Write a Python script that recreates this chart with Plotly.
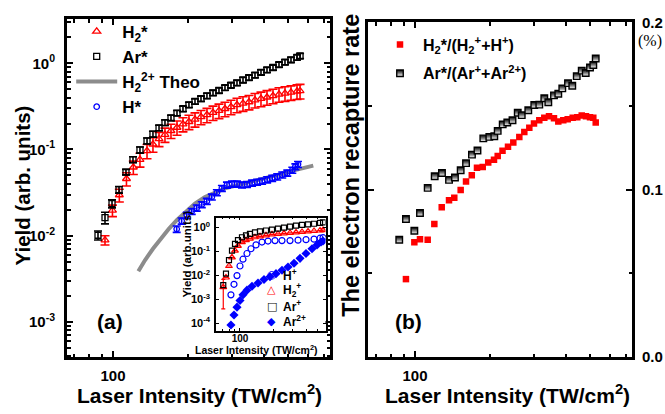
import plotly.graph_objects as go

# ---------------- panel (a): excited neutral yields ----------------
ar_star_I = [87.1, 92.9, 99.1, 105.7, 112.7, 120.2, 128.2, 136.8, 144.5, 152.8,
             161.4, 170.6, 180.3, 190.5, 201.3, 212.8, 224.9, 237.6, 251.2, 265.4,
             280.5, 296.4, 313.3, 331.1, 349.9, 369.8, 390.8, 413.0, 436.5, 461.3,
             487.5, 515.2, 544.5, 560.0]
ar_star_Y = [0.0101, 0.0162, 0.0235, 0.0341, 0.0547, 0.0764, 0.0987, 0.126, 0.151, 0.178,
             0.205, 0.233, 0.265, 0.297, 0.330, 0.361, 0.389, 0.420, 0.454, 0.484,
             0.523, 0.557, 0.594, 0.641, 0.684, 0.730, 0.787, 0.840, 0.895, 0.967,
             1.031, 1.099, 1.172, 1.218]
ar_star_err = [0.0012, 0.0025, 0.0025, 0.003, 0.004, 0.006, 0.008, 0.010, 0.012, 0.013,
               0.015, 0.017, 0.019, 0.021, 0.023, 0.025, 0.027, 0.029, 0.031, 0.033,
               0.035, 0.037, 0.040, 0.043, 0.046, 0.049, 0.052, 0.056, 0.060, 0.064,
               0.068, 0.073, 0.078, 0.081]

h2_star_I = [92.9, 99.5, 106.0, 113.2, 120.6, 128.2, 136.8, 144.5, 152.8, 161.4,
             170.6, 180.3, 190.5, 201.3, 212.8, 224.9, 237.6, 251.2, 265.4, 280.5,
             296.4, 313.3, 331.1, 349.9, 369.8, 390.8, 413.0, 436.5, 461.3, 487.5,
             515.2, 544.5, 560.0]
h2_star_Y = [0.00887, 0.0196, 0.0296, 0.0457, 0.0622, 0.0764, 0.0962, 0.115, 0.133, 0.149,
             0.165, 0.180, 0.197, 0.210, 0.224, 0.239, 0.252, 0.268, 0.282, 0.297,
             0.313, 0.330, 0.343, 0.356, 0.375, 0.389, 0.404, 0.420, 0.437, 0.448,
             0.460, 0.472, 0.478]
h2_star_err = [0.0011, 0.003, 0.005, 0.008, 0.011, 0.014, 0.018, 0.022, 0.025, 0.028,
               0.031, 0.034, 0.037, 0.040, 0.042, 0.045, 0.048, 0.051, 0.054, 0.057,
               0.060, 0.063, 0.066, 0.068, 0.072, 0.075, 0.078, 0.081, 0.084, 0.086,
               0.088, 0.091, 0.092]

h_star_I = [179.8, 188.2, 197.3, 206.5, 216.3, 226.5, 237.3, 248.5, 260.3, 272.6,
            285.6, 299.1, 313.3, 328.1, 343.7, 360.0, 377.1, 394.9, 413.7, 433.3,
            453.8, 475.4, 497.9, 521.5, 536.4, 549.6]
h_star_Y = [0.01191, 0.01479, 0.01726, 0.01913, 0.02094, 0.02291, 0.02506, 0.02812, 0.03155, 0.03540,
            0.03873, 0.03973, 0.03973, 0.03890, 0.03925, 0.04077, 0.04182, 0.04288, 0.04457, 0.04634,
            0.04817, 0.05070, 0.05333, 0.05764, 0.06309, 0.06720]
h_star_err = [0.0010, 0.0012, 0.0014, 0.0015, 0.0017, 0.0018, 0.0020, 0.0022, 0.0025, 0.0028,
              0.0031, 0.0032, 0.0032, 0.0031, 0.0031, 0.0033, 0.0033, 0.0034, 0.0036, 0.0037,
              0.0039, 0.0041, 0.0043, 0.0046, 0.0050, 0.0054]

theo_I = [126.3, 134.2, 144.5, 155.6, 167.6, 180.3, 194.1, 212.8, 233.3, 255.9,
          280.5, 307.5, 337.2, 369.8, 405.4, 444.6, 487.5, 534.5, 586.1, 632.6]
theo_Y = [0.003854, 0.005176, 0.007033, 0.009328, 0.01206, 0.01520, 0.01866, 0.02348, 0.02811, 0.03194,
          0.03540, 0.03775, 0.04026, 0.04293, 0.04576, 0.04941, 0.05333, 0.05764, 0.06143, 0.06501]

# ---------------- inset: ion yields ----------------
ion_I = [70.7, 74.8, 79.6, 84.7, 90.2, 95.9, 104.2, 113.3, 123.0, 136.5,
         151.4, 171.5, 194.2, 219.9, 249.1, 282.2, 319.6, 361.9, 409.9, 464.2,
         525.8, 559.5]
ar_ion_Y = [0.0039, 0.0117, 0.0426, 0.107, 0.204, 0.293, 0.387, 0.465, 0.534, 0.613,
            0.673, 0.738, 0.809, 0.887, 0.973, 1.07, 1.17, 1.28, 1.34, 1.41,
            1.54, 1.62]
h2_ion_Y = [0.0032, 0.0081, 0.0244, 0.056, 0.107, 0.169, 0.244, 0.293, 0.337, 0.387,
            0.424, 0.465, 0.51, 0.534, 0.56, 0.586, 0.613, 0.642, 0.673, 0.704,
            0.738, 0.773]
h2_ion_err_hi = [0.0036] + [None] * 21
h2_ion_err_lo = [0.0028] + [None] * 21

h_ion_I = [82.9, 88.3, 94.0, 100.0, 106.4, 115.6, 125.6, 139.4, 157.8, 178.8,
           206.7, 238.9, 282.2, 333.1, 393.2, 464.2, 525.8, 559.5]
h_ion_Y = [0.00153, 0.0042, 0.0097, 0.0244, 0.047, 0.081, 0.128, 0.185, 0.244, 0.268,
           0.28, 0.28, 0.28, 0.293, 0.307, 0.322, 0.353, 0.37]

ar2_ion_I = [82.9, 88.3, 94.0, 100.0, 106.4, 115.6, 128.3, 145.3, 164.5, 186.3,
             211.0, 238.9, 270.6, 306.6, 347.2, 393.2, 445.3, 494.0, 536.8, 559.5]
ar2_ion_Y = [8.5e-5, 2.2e-4, 4.7e-4, 8.9e-4, 0.00153, 0.0024, 0.0035, 0.0048, 0.0067, 0.0088,
             0.0117, 0.0162, 0.0222, 0.032, 0.051, 0.081, 0.128, 0.185, 0.244, 0.268]

# ---------------- panel (b): recapture rates ----------------
h2_rate_I = [92.0, 99.4, 104.7, 112.4, 119.5, 127.9, 136.8, 143.6, 152.3, 160.0,
             168.7, 177.0, 186.6, 196.3, 207.0, 214.2, 223.9, 235.5, 247.3, 261.4,
             273.7, 286.6, 299.2, 314.2, 329.0, 343.6, 359.7, 374.3, 391.9, 408.1,
             427.3, 445.9, 464.4, 483.1, 501.2, 516.7, 528.3]
h2_rate = [0.0466, 0.0686, 0.0705, 0.0701, 0.0795, 0.0896, 0.0938, 0.0953, 0.0999, 0.1049,
           0.1086, 0.1132, 0.1136, 0.1163, 0.1179, 0.1202, 0.1233, 0.1257, 0.1282, 0.1316,
           0.1345, 0.1370, 0.1396, 0.1415, 0.1431, 0.1440, 0.1427, 0.1408, 0.1415, 0.1421,
           0.1431, 0.1434, 0.1444, 0.1440, 0.1434, 0.1431, 0.1402]

ar_rate_I = [86.5, 92.0, 99.4, 104.7, 112.4, 119.9, 128.2, 136.8, 144.5, 152.3,
             160.0, 169.0, 177.8, 187.6, 198.3, 207.6, 214.2, 224.3, 234.0, 245.5,
             257.6, 267.3, 283.9, 300.0, 314.2, 329.0, 341.4, 359.7, 374.3, 388.3,
             409.3, 425.7, 443.6, 464.4, 481.8, 501.2, 516.7, 528.3]
ar_rate = [0.0701, 0.0825, 0.0755, 0.0861, 0.1011, 0.1081, 0.1100, 0.1059, 0.1073, 0.1117,
           0.1159, 0.1210, 0.1235, 0.1307, 0.1316, 0.1320, 0.1352, 0.1391, 0.1402, 0.1415,
           0.1460, 0.1446, 0.1475, 0.1507, 0.1509, 0.1547, 0.1523, 0.1564, 0.1574, 0.1606,
           0.1637, 0.1622, 0.1679, 0.1712, 0.1698, 0.1731, 0.1746, 0.1784]

# ---------------- ticks ----------------
x_major = [100]
x_major_text = ["100"]
x_minor = [70, 80, 90, 200, 300, 400, 500, 600, 700]
ya_major = [1, 0.1, 0.01, 0.001]
ya_major_text = ["10<sup>0</sup>", "10<sup>-1</sup>", "10<sup>-2</sup>", "10<sup>-3</sup>"]
ya_minor = [4e-4, 5e-4, 6e-4, 7e-4, 8e-4, 9e-4,
            2e-3, 3e-3, 4e-3, 5e-3, 6e-3, 7e-3, 8e-3, 9e-3,
            0.02, 0.03, 0.04, 0.05, 0.06, 0.07, 0.08, 0.09,
            0.2, 0.3, 0.4, 0.5, 0.6, 0.7, 0.8, 0.9, 2, 3]
yi_major = [1, 0.1, 0.01, 0.001, 0.0001]
yi_major_text = ["10<sup>0</sup>", "10<sup>-1</sup>", "10<sup>-2</sup>", "10<sup>-3</sup>", "10<sup>-4</sup>"]
xi_minor = [70, 80, 90, 200, 300, 400, 500]
yb_major = [0.0, 0.1, 0.2]
yb_major_text = ["0.0", "0.1", "0.2"]
yb_minor = [0.05, 0.15]

W, H = 665, 414
FAMILY = "Liberation Sans, Arial, sans-serif"


def fx(p):
    return p / W


def fy(p):
    return 1 - p / H


def bold(size, color="black"):
    return dict(family=FAMILY, size=size, color=color, weight="bold")


RED, BLACK, BLUE, GRAY = "#ff0000", "#000000", "#0000ff", "#8c8c8c"

fig = go.Figure()

# panel (a)
fig.add_trace(go.Scatter(
    x=h2_star_I, y=h2_star_Y, mode="markers", name="H<sub>2</sub>*",
    marker=dict(symbol="triangle-up-open", size=7, color=RED, line=dict(width=1.3, color=RED)),
    error_y=dict(type="data", array=h2_star_err, color=RED, thickness=1.6, width=4.5),
    xaxis="x", yaxis="y", legend="legend", legendgroup="a1"))
fig.add_trace(go.Scatter(
    x=ar_star_I, y=ar_star_Y, mode="markers", name="Ar*",
    marker=dict(symbol="square-open", size=6, color=BLACK, line=dict(width=1.3, color=BLACK)),
    error_y=dict(type="data", array=ar_star_err, color=BLACK, thickness=1.6, width=4),
    xaxis="x", yaxis="y", legend="legend", legendgroup="a2"))
fig.add_trace(go.Scatter(
    x=theo_I, y=theo_Y, mode="lines", name="H<sub>2</sub><sup>2+</sup> Theo",
    line=dict(color=GRAY, width=4),
    xaxis="x", yaxis="y", legend="legend", legendgroup="a3"))
fig.add_trace(go.Scatter(
    x=h_star_I, y=h_star_Y, mode="markers", name="H*",
    marker=dict(symbol="circle-open", size=5.5, color=BLUE, line=dict(width=1.3, color=BLUE)),
    error_y=dict(type="data", array=h_star_err, color=BLUE, thickness=1.6, width=4),
    xaxis="x", yaxis="y", legend="legend", legendgroup="a4"))

# inset
fig.add_trace(go.Scatter(
    x=h_ion_I, y=h_ion_Y, mode="markers", showlegend=False,
    marker=dict(symbol="circle-open", size=6, color=BLUE, line=dict(width=1.2, color=BLUE)),
    xaxis="x2", yaxis="y2"))
fig.add_trace(go.Scatter(
    x=ion_I, y=h2_ion_Y, mode="markers", showlegend=False,
    marker=dict(symbol="triangle-up-open", size=6, color=RED, line=dict(width=1.2, color=RED)),
    error_y=dict(type="data", array=h2_ion_err_hi, arrayminus=h2_ion_err_lo,
                 color=RED, thickness=1.2, width=2),
    xaxis="x2", yaxis="y2"))
fig.add_trace(go.Scatter(
    x=ion_I, y=ar_ion_Y, mode="markers", showlegend=False,
    marker=dict(symbol="square-open", size=5, color=BLACK, line=dict(width=1.2, color=BLACK)),
    xaxis="x2", yaxis="y2"))
fig.add_trace(go.Scatter(
    x=ar2_ion_I, y=ar2_ion_Y, mode="markers", showlegend=False,
    marker=dict(symbol="diamond", size=7, color=BLUE),
    xaxis="x2", yaxis="y2"))

# panel (b)
fig.add_trace(go.Scatter(
    x=h2_rate_I, y=h2_rate, mode="markers", name="H<sub>2</sub>*/(H<sub>2</sub><sup>+</sup>+H<sup>+</sup>)",
    marker=dict(symbol="square", size=6.5, color=RED),
    xaxis="x3", yaxis="y3", legend="legend3", legendgroup="b1"))
fig.add_trace(go.Scatter(
    x=ar_rate_I, y=ar_rate, mode="markers", name="Ar*/(Ar<sup>+</sup>+Ar<sup>2+</sup>)",
    marker=dict(symbol="square", size=6.5, color=BLACK,
                gradient=dict(type="vertical", color="white"),
                line=dict(width=1.4, color=BLACK)),
    xaxis="x3", yaxis="y3", legend="legend3", legendgroup="b2"))


def axis(**kw):
    base = dict(showline=True, linecolor="black", linewidth=3, mirror="ticks",
                ticks="inside", ticklen=6, tickwidth=2, tickcolor="black",
                showgrid=False, zeroline=False, tickfont=bold(15))
    base.update(kw)
    return base


minor_a = dict(ticks="inside", ticklen=3.5, tickwidth=1.5, tickcolor="black", showgrid=False)

fig.update_layout(
    width=W, height=H, autosize=False,
    margin=dict(l=0, r=0, t=0, b=0),
    paper_bgcolor="white", plot_bgcolor="white",
    xaxis=axis(type="log", range=[1.816, 2.868], domain=[fx(67), fx(330)], anchor="y",
               tickmode="array", tickvals=x_major, ticktext=x_major_text, ticklabelstandoff=3,
               minor=dict(minor_a, tickvals=x_minor)),
    yaxis=axis(type="log", range=[-3.414, 0.512], domain=[fy(363.3), fy(10.7)], anchor="x",
               tickmode="array", tickvals=ya_major, ticktext=ya_major_text, ticklabelstandoff=6,
               minor=dict(minor_a, tickvals=ya_minor)),
    xaxis2=axis(type="log", range=[1.784, 2.770], domain=[fx(216), fx(325.5)], anchor="y2",
                linewidth=1.5, ticklen=3, tickwidth=1.2, tickfont=bold(10),
                tickmode="array", tickvals=x_major, ticktext=x_major_text, ticklabelstandoff=-3,
                minor=dict(ticks="inside", ticklen=2, tickwidth=1, tickcolor="black",
                           tickvals=xi_minor, showgrid=False)),
    yaxis2=axis(type="log", range=[-4.332, 0.408], domain=[fy(336), fy(217.5)], anchor="x2",
                linewidth=1.5, ticklen=3, tickwidth=1.2, tickfont=bold(11),
                tickmode="array", tickvals=yi_major, ticktext=yi_major_text, ticklabelstandoff=2),
    xaxis3=axis(type="log", range=[1.812, 2.868], domain=[fx(368), fx(632)], anchor="y3",
                tickmode="array", tickvals=x_major, ticktext=x_major_text, ticklabelstandoff=3,
                minor=dict(minor_a, tickvals=x_minor)),
    yaxis3=axis(range=[0, 0.2], domain=[fy(363), fy(14)], anchor="x3", side="right",
                tickmode="array", tickvals=yb_major, ticktext=yb_major_text, ticklabelstandoff=4,
                minor=dict(minor_a, tickvals=yb_minor)),
    legend=dict(x=fx(71.2), y=fy(5.0), xanchor="left", yanchor="top",
                bgcolor="rgba(0,0,0,0)", borderwidth=0, itemwidth=41,
                traceorder="grouped", tracegroupgap=0, font=bold(17)),
    legend3=dict(x=fx(377), y=fy(19.3), xanchor="left", yanchor="top",
                 bgcolor="rgba(0,0,0,0)", borderwidth=0, itemwidth=36,
                 traceorder="grouped", tracegroupgap=5, font=bold(16)),
    showlegend=True,
)

annotations = [
    dict(text="Yield (arb. units)", x=fx(22), y=fy(184), textangle=-90, font=bold(20.5)),
    dict(text="Laser Intensity (TW/cm<sup>2</sup>)", x=fx(199), y=fy(401), font=bold(21)),
    dict(text="Laser Intensity (TW/cm<sup>2</sup>)", x=fx(507), y=fy(401), font=bold(21)),
    dict(text="The electron recapture rate", x=fx(351), y=fy(163.5), textangle=-90, font=bold(23.5)),
    dict(text="(a)", x=fx(110), y=fy(326), font=bold(21)),
    dict(text="(b)", x=fx(408), y=fy(326), font=bold(21)),
    dict(text="(%)", x=fx(650), y=fy(33),
         font=dict(family="Liberation Serif, Times New Roman, serif", size=16, color="black")),
    dict(text="Yield (arb.units)", x=fx(187), y=fy(256), textangle=-90, font=bold(11.5)),
    dict(text="Laser Intensity (TW/cm<sup>2</sup>)", x=fx(256.5), y=fy(355.5), font=bold(10.5)),
]
# inset legend: coloured glyph + label
inset_keys = [("○", BLUE, "H<sup>+</sup>", 277.3),
              ("△", RED, "H<sub>2</sub><sup>+</sup>", 292.7),
              ("□", BLACK, "Ar<sup>+</sup>", 310),
              ("◆", BLUE, "Ar<sup>2+</sup>", 325.7)]
for glyph, col, label, ypx in inset_keys:
    annotations.append(dict(text=glyph, x=fx(271.7), y=fy(ypx), xanchor="center",
                            font=dict(family="DejaVu Sans", size=11, color=col)))
    annotations.append(dict(text=label, x=fx(281), y=fy(ypx), xanchor="left", font=bold(12)))

for a in annotations:
    a.setdefault("xref", "paper")
    a.setdefault("yref", "paper")
    a.setdefault("showarrow", False)
    a.setdefault("xanchor", "center")
    a.setdefault("yanchor", "middle")
fig.update_layout(annotations=annotations)

fig.write_html("out.html")
